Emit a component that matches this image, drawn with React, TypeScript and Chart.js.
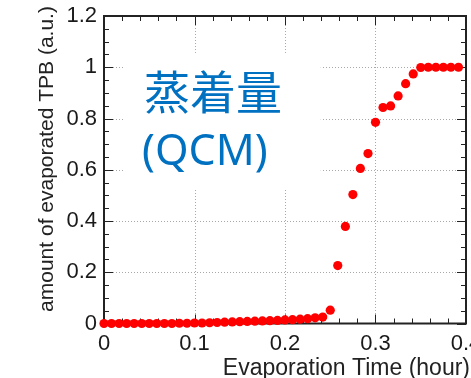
import React, { useEffect, useRef } from 'react';
import { Chart, registerables } from 'chart.js';

Chart.register(...registerables);

// Evaporation time (hours), one reading every 30 s
const timeHours = [
  0, 0.0083, 0.0167, 0.025, 0.0333, 0.0417, 0.05, 0.0583, 0.0667, 0.075,
  0.0833, 0.0917, 0.1, 0.1083, 0.1167, 0.125, 0.1333, 0.1417, 0.15, 0.1583,
  0.1667, 0.175, 0.1833, 0.1917, 0.2, 0.2083, 0.2167, 0.225, 0.2333, 0.2417,
  0.25, 0.2583, 0.2667, 0.275, 0.2833, 0.2917, 0.3, 0.3083, 0.3167, 0.325,
  0.3333, 0.3417, 0.35, 0.3583, 0.3667, 0.375, 0.3833, 0.3917,
];

// Amount of evaporated TPB (a.u.)
const amountTPB = [
  0, 0, 0, 0, 0, 0, 0, 0, 0, 0,
  0.001, 0.001, 0.002, 0.002, 0.003, 0.004, 0.005, 0.006, 0.007, 0.008,
  0.009, 0.01, 0.011, 0.012, 0.014, 0.015, 0.017, 0.019, 0.022, 0.025,
  0.052, 0.226, 0.379, 0.503, 0.605, 0.663, 0.785, 0.843, 0.849, 0.888,
  0.936, 0.974, 0.999, 1, 1, 1, 1, 1,
];

const xRange = [0, 0.4];
const yRange = [0, 1.2];
const xMajorStep = 0.1;
const xMinorStep = 0.02;
const yMajorStep = 0.2;
const yMinorStep = 0.05;

const xTitle = 'Evaporation Time (hour)';
const yTitle = 'amount of evaporated TPB (a.u.)';
const annotationTitle = '蒸着量';
const annotationSub = '(QCM)';

const isMajor = (v: number, step: number) =>
  Math.abs(v / step - Math.round(v / step)) < 1e-6;

export default function App() {
  const ref = useRef<HTMLCanvasElement>(null);

  useEffect(() => {
    document.body.style.margin = '0';
    const canvas = ref.current;
    if (!canvas) return;

    const decor = {
      id: 'decor',
      beforeDatasetsDraw(chart: any) {
        const { ctx, chartArea: a, scales } = chart;
        const xs = scales.x;
        const ys = scales.y;
        ctx.save();

        // dotted grid at major ticks
        ctx.strokeStyle = '#a8a8a8';
        ctx.lineWidth = 1;
        ctx.setLineDash([1, 2]);
        xs.ticks.forEach((t: any) => {
          if (!isMajor(t.value, xMajorStep) || t.value <= xRange[0] || t.value >= xRange[1]) return;
          const px = Math.round(xs.getPixelForValue(t.value)) + 0.5;
          ctx.beginPath();
          ctx.moveTo(px, a.top);
          ctx.lineTo(px, a.bottom);
          ctx.stroke();
        });
        ys.ticks.forEach((t: any) => {
          if (!isMajor(t.value, yMajorStep) || t.value <= yRange[0] || t.value >= yRange[1]) return;
          const py = Math.round(ys.getPixelForValue(t.value)) + 0.5;
          ctx.beginPath();
          ctx.moveTo(a.left, py);
          ctx.lineTo(a.right, py);
          ctx.stroke();
        });
        ctx.setLineDash([]);

        // white box behind annotation
        const bx0 = xs.getPixelForValue(0.021);
        const bx1 = xs.getPixelForValue(0.2395);
        const by0 = ys.getPixelForValue(1.056);
        const by1 = ys.getPixelForValue(0.528);
        ctx.fillStyle = '#ffffff';
        ctx.fillRect(bx0, by0, bx1 - bx0, by1 - by0);

        // ticks (inward, all four sides)
        ctx.strokeStyle = '#222';
        ctx.lineWidth = 1;
        xs.ticks.forEach((t: any) => {
          const len = isMajor(t.value, xMajorStep) ? 9 : 5;
          const px = Math.round(xs.getPixelForValue(t.value)) + 0.5;
          ctx.beginPath();
          ctx.moveTo(px, a.bottom);
          ctx.lineTo(px, a.bottom - len);
          ctx.moveTo(px, a.top);
          ctx.lineTo(px, a.top + len);
          ctx.stroke();
        });
        ys.ticks.forEach((t: any) => {
          const len = isMajor(t.value, yMajorStep) ? 9 : 5;
          const py = Math.round(ys.getPixelForValue(t.value)) + 0.5;
          ctx.beginPath();
          ctx.moveTo(a.left, py);
          ctx.lineTo(a.left + len, py);
          ctx.moveTo(a.right, py);
          ctx.lineTo(a.right - len, py);
          ctx.stroke();
        });

        // frame
        ctx.lineWidth = 2;
        ctx.strokeStyle = '#222';
        ctx.strokeRect(a.left, a.top, a.right - a.left, a.bottom - a.top);

        // annotation text
        ctx.fillStyle = '#0070C0';
        ctx.textAlign = 'left';
        ctx.textBaseline = 'middle';
        ctx.font = '46px "Noto Sans CJK JP"';
        ctx.fillText(annotationTitle, 144, 92);
        ctx.textBaseline = 'alphabetic';
        ctx.font = '43px "Noto Sans"';
        ctx.fillText(annotationSub, 142, 165);

        ctx.restore();
      },
      afterDraw(chart: any) {
        const { ctx } = chart;
        ctx.save();
        ctx.fillStyle = '#222';
        ctx.font = '23px "Liberation Sans"';
        ctx.textAlign = 'right';
        ctx.textBaseline = 'alphabetic';
        ctx.fillText(xTitle, 470, 375);

        ctx.translate(53, 159);
        ctx.rotate(-Math.PI / 2);
        ctx.font = '21px "Liberation Sans"';
        ctx.textAlign = 'center';
        ctx.fillText(yTitle, 0, 0);
        ctx.restore();
      },
    };

    const chart = new Chart(canvas, {
      type: 'scatter',
      data: {
        datasets: [
          {
            data: timeHours.map((x, i) => ({ x, y: amountTPB[i] })),
            pointRadius: 4.6,
            pointHoverRadius: 4.6,
            pointBackgroundColor: '#ff0000',
            backgroundColor: '#ff0000',
            borderWidth: 0,
            pointBorderWidth: 0,
            clip: false as any,
          },
        ],
      },
      options: {
        responsive: false,
        animation: false,
        events: [],
        layout: { padding: { left: 0, top: 16, right: 5, bottom: 0 } },
        plugins: { legend: { display: false }, tooltip: { enabled: false } },
        scales: {
          x: {
            type: 'linear',
            min: xRange[0],
            max: xRange[1],
            grid: { display: false, drawTicks: false },
            border: { display: false },
            ticks: {
              stepSize: xMinorStep,
              maxTicksLimit: 100,
              autoSkip: false,
              maxRotation: 0,
              padding: 7,
              color: '#1a1a1a',
              font: { family: 'Liberation Sans', size: 22 },
              callback: (v: any) => (isMajor(Number(v), xMajorStep) ? String(+Number(v).toFixed(1)) : ''),
            },
            afterFit: (s: any) => {
              s.height = 54.5;
              s.paddingLeft = 0;
              s.paddingRight = 0;
            },
          },
          y: {
            type: 'linear',
            min: yRange[0],
            max: yRange[1],
            grid: { display: false, drawTicks: false },
            border: { display: false },
            ticks: {
              stepSize: yMinorStep,
              maxTicksLimit: 100,
              autoSkip: false,
              padding: 7,
              color: '#1a1a1a',
              font: { family: 'Liberation Sans', size: 22 },
              callback: (v: any) => (isMajor(Number(v), yMajorStep) ? String(+Number(v).toFixed(1)) : ''),
            },
            afterFit: (s: any) => {
              s.width = 104;
              s.paddingTop = 0;
              s.paddingBottom = 0;
            },
          },
        },
      },
      plugins: [decor],
    });

    return () => chart.destroy();
  }, []);

  return (
    <div style={{ width: 471, height: 378 }}>
      <canvas ref={ref} width={471} height={378} style={{ display: 'block' }} />
    </div>
  );
}
